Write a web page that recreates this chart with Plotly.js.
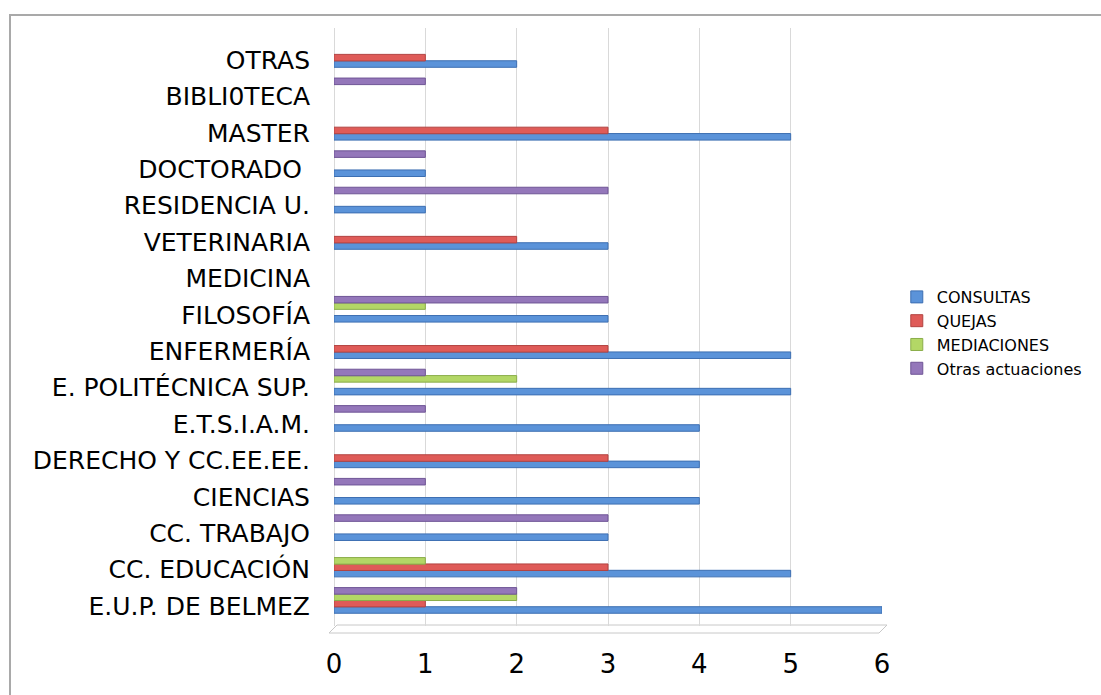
<!DOCTYPE html>
<html>
<head>
<meta charset="utf-8">
<script src="https://cdn.plot.ly/plotly-3.0.1.min.js"></script>
<style>
  html, body { margin: 0; padding: 0; background: #ffffff; }
  #wrap { position: relative; width: 1101px; height: 695px; overflow: hidden; }
  #chart { width: 1101px; height: 695px; }
  #frame { position: absolute; left: 9px; top: 14px; width: 1200px; height: 800px;
           border-left: 2px solid #a9a9a9; border-top: 2px solid #a9a9a9; pointer-events: none; }
</style>
</head>
<body>
<div id="wrap">
  <div id="chart"></div>
  <div id="frame"></div>
</div>
<script>
// Categories, bottom to top
const categories = [
  "E.U.P. DE BELMEZ", "CC. EDUCACIÓN", "CC. TRABAJO", "CIENCIAS",
  "DERECHO Y CC.EE.EE.", "E.T.S.I.A.M.", "E. POLITÉCNICA SUP.", "ENFERMERÍA",
  "FILOSOFÍA", "MEDICINA", "VETERINARIA", "RESIDENCIA U.",
  "DOCTORADO\u00a0", "MASTER", "BIBLI0TECA", "OTRAS"
];
const seriesNames = ["CONSULTAS", "QUEJAS", "MEDIACIONES", "Otras actuaciones"];
const consultas   = [6, 5, 3, 4, 4, 4, 5, 5, 3, null, 3, 1, 1, 5, null, 2];
const quejas      = [1, 3, null, null, 3, null, null, 3, null, null, 2, null, null, 3, null, 1];
const mediaciones = [2, 1, null, null, null, null, 2, null, 1, null, null, null, null, null, null, null];
const otras       = [2, null, 3, 1, null, 1, 1, null, 3, null, null, 3, 1, null, 1, null];
const xTicks = [0, 1, 2, 3, 4, 5, 6];

const fills = ["#5b93d9", "#df5b58", "#b3d766", "#9477ba"];
const edges = ["#3d6fb2", "#b24341", "#8aad4a", "#6f5596"];
const offsets = [-0.2, -0.025, 0.15, 0.325];
const barW = 0.18;
const values = [consultas, quejas, mediaciones, otras];

const traces = values.map((vals, i) => ({
  type: "bar",
  orientation: "h",
  name: seriesNames[i],
  legendgroup: "g" + i,
  y: categories,
  x: vals,
  offset: offsets[i],
  width: barW,
  marker: { color: fills[i], line: { color: edges[i], width: 1 } },
  hoverinfo: "x+y+name"
}));

// floor (3D base) decoration in paper coordinates
const px = v => (v - 334) / 548;
const py = v => (626 - v) / 598;
const floorPath = `M ${px(329)} ${py(633)} L ${px(879)} ${py(633)} L ${px(887)} ${py(625)} L ${px(337)} ${py(625)} Z`;
const shapes = [{
  type: "path", xref: "paper", yref: "paper", path: floorPath,
  line: { color: "#c8c8c8", width: 1 }, fillcolor: "rgba(0,0,0,0)", layer: "below"
}];

const layout = {
  width: 1101, height: 695,
  margin: { l: 334, r: 219, t: 28, b: 69 },
  paper_bgcolor: "#ffffff", plot_bgcolor: "#ffffff",
  barmode: "overlay",
  font: { family: "DejaVu Sans, sans-serif", color: "#000000" },
  showlegend: true,
  legend: {
    x: 1.027, xanchor: "left", y: 0.49, yanchor: "middle",
    traceorder: "normal", tracegroupgap: 0,
    font: { size: 16, family: "DejaVu Sans, sans-serif", color: "#000000" },
    bgcolor: "rgba(0,0,0,0)"
  },
  xaxis: {
    range: [0, 6], tickvals: xTicks, ticktext: xTicks.map(String),
    showgrid: true, gridcolor: "#d9d9d9", gridwidth: 1,
    zeroline: true, zerolinecolor: "#d9d9d9", zerolinewidth: 1,
    showline: false, ticks: "", ticklabelstandoff: 20,
    tickfont: { size: 26, family: "DejaVu Sans, sans-serif", color: "#000000" },
    fixedrange: true
  },
  yaxis: {
    type: "category", categoryorder: "array", categoryarray: categories,
    range: [-0.55, 15.88],
    showgrid: false, zeroline: false, showline: false, ticks: "",
    ticklabelstandoff: 23,
    tickfont: { size: 25, family: "DejaVu Sans, sans-serif", color: "#000000" },
    fixedrange: true
  },
  shapes: shapes
};

Plotly.newPlot("chart", traces, layout, { displayModeBar: false, staticPlot: true });
</script>
</body>
</html>
